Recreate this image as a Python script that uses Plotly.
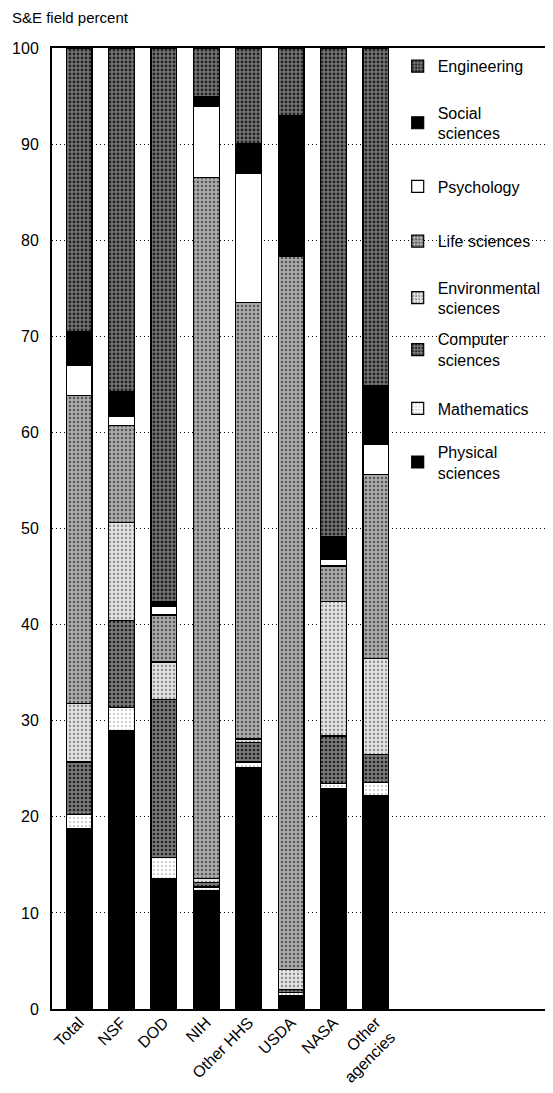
import plotly.graph_objects as go

agencies = ["Total", "NSF", "DOD", "NIH", "Other HHS", "USDA", "NASA", "Other<br>agencies"]

# stacked from bottom to top (percent of S&E field)
physical      = [18.8, 29.0, 13.6, 12.3, 25.1, 1.4, 22.9, 22.2]
mathematics   = [1.4,  2.4,  2.2,  0.4,  0.6,  0.3, 0.6,  1.4]
computer      = [5.5,  9.0,  16.4, 0.5,  2.0,  0.3, 4.9,  2.9]
environmental = [6.1,  10.2, 3.9,  0.4,  0.4,  2.1, 14.0, 10.0]
life          = [32.0, 10.1, 4.9,  72.9, 45.4, 74.2, 3.7, 19.1]
psychology    = [3.2,  1.0,  0.9,  7.4,  13.4, 0.0, 0.7,  3.1]
social        = [3.5,  2.5,  0.5,  1.0,  3.2,  14.7, 2.4, 6.2]
engineering   = [29.5, 35.8, 57.6, 5.1,  9.9,  7.0, 50.8, 35.1]

series = [
    ("Physical<br>sciences", physical, dict(bg="#000000", fg="#000000", shape="", sol=0.3)),
    ("Mathematics", mathematics, dict(bg="#ffffff", fg="#8a8a8a", shape=".", sol=0.12)),
    ("Computer<br>sciences", computer, dict(bg="#7a7a7a", fg="#222222", shape=".", sol=0.35)),
    ("Environmental<br>sciences", environmental, dict(bg="#e2e2e2", fg="#8a8a8a", shape=".", sol=0.25)),
    ("Life sciences", life, dict(bg="#ababab", fg="#555555", shape=".", sol=0.3)),
    ("Psychology", psychology, dict(bg="#ffffff", fg="#ffffff", shape="", sol=0.3)),
    ("Social<br>sciences", social, dict(bg="#000000", fg="#000000", shape="", sol=0.3)),
    ("Engineering", engineering, dict(bg="#767676", fg="#222222", shape=".", sol=0.4)),
]

# vertical centre of each legend entry, as a fraction of the plot height (bottom = 0)
legend_y = [0.569, 0.625, 0.686, 0.740, 0.799, 0.856, 0.922, 0.981]

FONT = "Liberation Sans, Arial, sans-serif"

# the page body adds an 8px margin; the figure is sized to end at the window edge
W, H = 545, 1085

fig = go.Figure()
legends = {}
for i, (name, vals, st) in enumerate(series):
    key = "legend" if i == 0 else f"legend{i + 1}"
    fig.add_trace(go.Bar(
        x=agencies, y=vals, name=name, legend=key,
        marker=dict(
            color=st["bg"],
            line=dict(color="black", width=1.2),
            pattern=dict(shape=st["shape"], bgcolor=st["bg"], fgcolor=st["fg"],
                         size=4, solidity=st["sol"], fillmode="replace"),
        ),
    ))
    legends[key] = dict(
        x=0.69, y=legend_y[i], xanchor="left", yanchor="middle",
        bgcolor="rgba(0,0,0,0)", borderwidth=0,
        font=dict(family=FONT, size=16, color="black"),
        itemwidth=30,
    )

fig.update_layout(
    width=W, height=H,
    barmode="stack", bargap=0.39,
    paper_bgcolor="white", plot_bgcolor="white",
    margin=dict(l=44, r=0, t=40, b=84),
    font=dict(family=FONT, size=16, color="black"),
    title=dict(text="S&E field percent", x=4 / W, xanchor="left", xref="container",
               y=1 - 10 / H, yanchor="middle", yref="container",
               font=dict(family=FONT, size=15, color="black")),
    showlegend=True,
    **legends,
)

fig.update_xaxes(
    type="category", range=[-0.64, 11.18],
    showline=True, linecolor="black", linewidth=2, mirror=True,
    showgrid=False, ticks="", tickangle=-45, ticklabelstandoff=-4,
    tickfont=dict(family=FONT, size=16, color="black"),
    automargin=False, fixedrange=True,
)
fig.update_yaxes(
    range=[0, 100], tickvals=list(range(0, 101, 10)),
    showline=True, linecolor="black", linewidth=2,
    showgrid=True, gridcolor="black", gridwidth=1, griddash="1px,3px",
    zeroline=False, ticks="", ticklabelstandoff=8,
    tickfont=dict(family=FONT, size=16, color="black"),
    automargin=False, fixedrange=True,
)

fig.write_html("out.html")
